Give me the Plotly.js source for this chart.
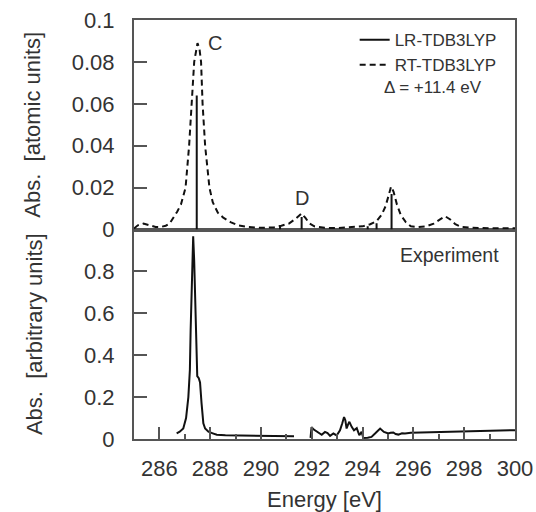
<!DOCTYPE html>
<html>
<head>
<meta charset="utf-8">
<script src="https://cdn.plot.ly/plotly-3.0.1.min.js"></script>
<style>html,body{margin:0;padding:0;background:#fff;}#chart{width:536px;height:512px;}</style>
</head>
<body>
<div id="chart"></div>
<script>
// Top panel: RT-TDB3LYP broadened spectrum (dashed)
const rtEnergy = [285.0,285.15,285.37,285.6,285.85,286.05,286.25,286.4,286.55,286.7,286.85,287.03,287.17,287.27,287.37,287.5,287.58,287.64,287.7,287.8,287.97,288.1,288.3,288.5,288.8,289.1,289.5,290.0,290.5,290.8,291.1,291.35,291.6,291.75,291.9,292.1,292.5,293.0,293.5,294.0,294.3,294.55,294.75,294.9,295.02,295.12,295.22,295.35,295.5,295.7,295.9,296.2,296.5,296.8,297.05,297.25,297.45,297.65,297.9,298.3,299.0,300.0];
const rtAbs = [0.0005,0.002,0.0028,0.002,0.0012,0.0012,0.0018,0.0028,0.0055,0.0085,0.012,0.02,0.04,0.06,0.08,0.089,0.086,0.08,0.06,0.04,0.02,0.013,0.008,0.0058,0.0035,0.002,0.0012,0.0008,0.001,0.0018,0.0028,0.005,0.0077,0.0055,0.003,0.0015,0.0008,0.0007,0.001,0.0015,0.0025,0.004,0.007,0.011,0.016,0.0205,0.018,0.012,0.007,0.0035,0.0015,0.0012,0.0015,0.0028,0.0048,0.0063,0.0048,0.0025,0.0012,0.0008,0.0006,0.0006];

// Top panel: LR-TDB3LYP stick spectrum (solid)
const lrEnergy = [287.47, 290.75, 291.6, 294.2, 294.55, 295.14];
const lrAbs = [0.064, 0.0015, 0.006, 0.0015, 0.003, 0.017];

// Bottom panel: experiment (null = gap in the measured curve)
const expEnergy = [286.68,286.8,286.94,287.05,287.14,287.2,287.23,287.28,287.33,287.37,287.41,287.44,287.49,287.55,287.6,287.66,287.73,287.8,287.93,288.1,288.26,288.6,289.0,289.5,290.1,290.7,291.3,null,291.95,291.99,292.08,292.19,292.3,292.39,292.52,292.62,292.72,292.85,292.98,293.11,293.2,293.27,293.32,293.37,293.43,293.48,293.57,293.66,293.77,293.87,293.96,294.03,294.2,294.35,294.49,294.69,294.84,295.01,295.1,295.21,295.3,295.41,295.55,295.67,295.9,296.5,297.5,298.5,299.3,300.0];
const expAbs = [0.027,0.035,0.05,0.1,0.2,0.33,0.52,0.8,0.968,0.85,0.64,0.52,0.3,0.29,0.27,0.17,0.075,0.05,0.035,0.027,0.02,0.018,0.017,0.016,0.015,0.014,0.013,null,0.005,0.057,0.045,0.036,0.03,0.02,0.034,0.028,0.015,0.026,0.017,0.041,0.075,0.105,0.09,0.05,0.07,0.082,0.058,0.042,0.052,0.018,0.034,0.005,0.006,0.01,0.026,0.05,0.034,0.026,0.03,0.031,0.024,0.021,0.027,0.026,0.03,0.032,0.035,0.038,0.04,0.042];

const xTicks = [286,288,290,292,294,296,298,300];
const yTopTicks = [0,0.02,0.04,0.06,0.08,0.1];
const yTopLabels = ['0','0.02','0.04','0.06','0.08','0.1'];
const yBotTicks = [0,0.2,0.4,0.6,0.8];
const yBotLabels = ['0','0.2','0.4','0.6','0.8'];

// build stick segments from the LR arrays
const stickX = [], stickY = [];
lrEnergy.forEach((e,i)=>{ stickX.push(e,e,null); stickY.push(0,lrAbs[i],null); });

const FONT = 'Liberation Sans, Arial, sans-serif';
const TXT = '#333';
const AX = '#555';

const traces = [
  {x: stickX, y: stickY, xaxis:'x2', yaxis:'y2', type:'scatter', mode:'lines', name:'LR-TDB3LYP',
   line:{color:'#111', width:2}, connectgaps:false},
  {x: rtEnergy, y: rtAbs, xaxis:'x2', yaxis:'y2', type:'scatter', mode:'lines', name:'RT-TDB3LYP',
   line:{color:'#111', width:2, dash:'6px,4px'}},
  {x: expEnergy, y: expAbs, xaxis:'x', yaxis:'y', type:'scatter', mode:'lines', name:'Experiment',
   line:{color:'#111', width:2}, showlegend:false, connectgaps:false}
];

const layout = {
  width:536, height:512,
  margin:{l:134, r:21, t:20, b:73},
  paper_bgcolor:'#fff', plot_bgcolor:'#fff',
  font:{family:FONT, color:TXT, size:22},
  showlegend:true,
  legend:{x:0.965, xanchor:'right', y:0.995, yanchor:'top', bgcolor:'rgba(0,0,0,0)',
          font:{size:17, color:TXT}, tracegroupgap:0},
  xaxis:{domain:[0,1], anchor:'y', range:[285,300], tickvals:xTicks, ticks:'inside', ticklen:12, tickwidth:2,
         tickcolor:AX, showline:true, linecolor:AX, linewidth:2, mirror:true, showgrid:false, zeroline:false,
         tickfont:{size:22}, ticklabelstandoff:9,
         minor:{dtick:1, tick0:285, ticks:'inside', ticklen:5, tickwidth:2, tickcolor:AX, showgrid:false},
         title:{text:'Energy [eV]', font:{size:22}, standoff:17}},
  xaxis2:{domain:[0,1], anchor:'y2', matches:'x', range:[285,300], showticklabels:false, ticks:'',
          showline:true, linecolor:AX, linewidth:2, mirror:true, showgrid:false, zeroline:false},
  yaxis:{domain:[0,0.5], anchor:'x', range:[0,1], tickvals:yBotTicks, ticktext:yBotLabels, ticks:'inside',
         ticklen:13, tickwidth:2, tickcolor:AX, showline:true, linecolor:AX, linewidth:2, mirror:true,
         showgrid:false, zeroline:false, tickfont:{size:22}, ticklabelstandoff:13,
         title:{text:'Abs.\u00a0 [arbitrary units]', font:{size:22}, standoff:35}},
  yaxis2:{domain:[0.5,1], anchor:'x2', range:[0,0.1], tickvals:yTopTicks, ticktext:yTopLabels, ticks:'inside',
          ticklen:13, tickwidth:2, tickcolor:AX, showline:true, linecolor:AX, linewidth:2, mirror:true,
          showgrid:false, zeroline:false, tickfont:{size:22}, ticklabelstandoff:13,
          title:{text:'Abs.\u00a0 [atomic units]', font:{size:22}, standoff:25}},
  annotations:[
    {text:'C', x:288.2, y:0.089, xref:'x2', yref:'y2', xanchor:'center', yanchor:'middle', showarrow:false, font:{size:20, color:TXT}},
    {text:'D', x:291.6, y:0.0152, xref:'x2', yref:'y2', xanchor:'center', yanchor:'middle', showarrow:false, font:{size:20, color:TXT}},
    {text:'\u0394 = +11.4 eV', x:0.785, y:0.838, xref:'paper', yref:'paper', xanchor:'center', yanchor:'middle', showarrow:false, font:{size:17, color:TXT}},
    {text:'Experiment', x:0.829, y:0.439, xref:'paper', yref:'paper', xanchor:'center', yanchor:'middle', showarrow:false, font:{size:19.5, color:TXT}}
  ]
};

Plotly.newPlot('chart', traces, layout, {staticPlot:true, displayModeBar:false});
</script>
</body>
</html>
